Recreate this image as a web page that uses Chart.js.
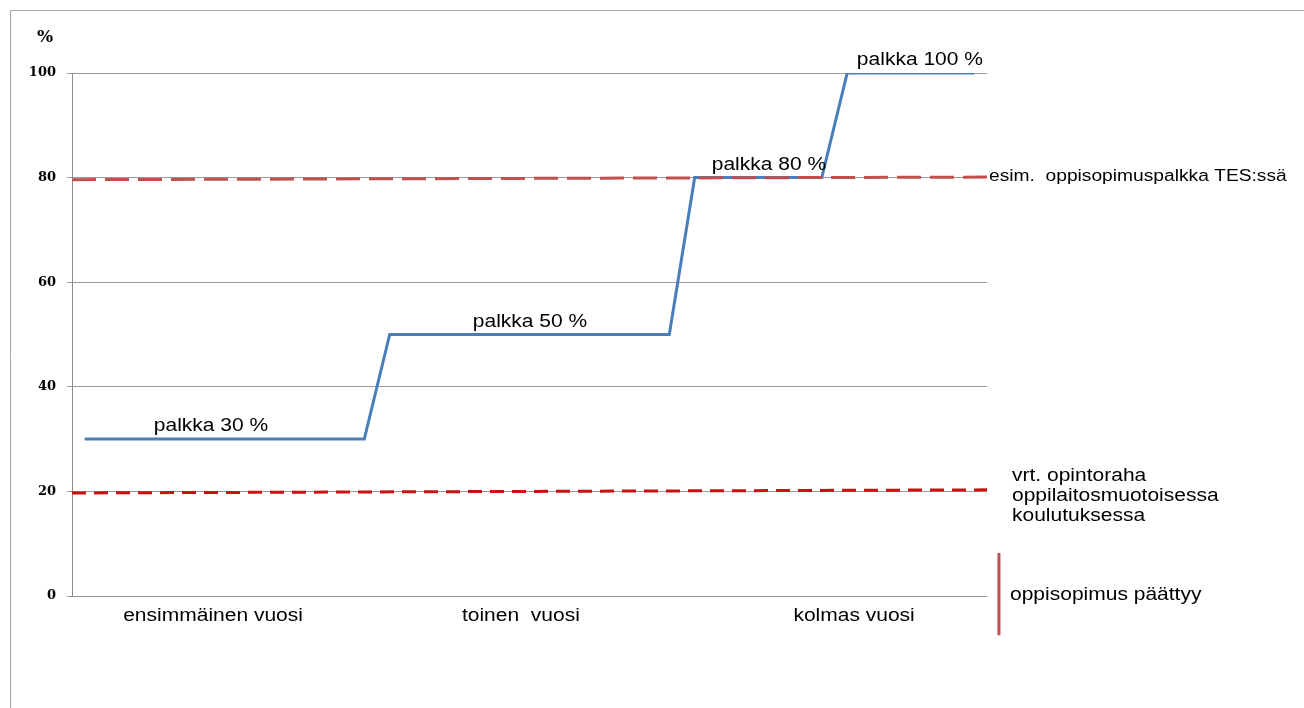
<!DOCTYPE html>
<html>
<head>
<meta charset="utf-8">
<script src="https://cdn.jsdelivr.net/npm/chart.js@4"></script>
<style>
  body { margin: 0; background: #fff; }
  canvas { display: block; }
</style>
</head>
<body>
<canvas id="palkka" width="1304" height="708"></canvas>
<script>
// aika kuukausina (0..36), palkka prosentteina
const palkkaKk = [0.5, 11.5, 12.5, 23.5, 24.5, 29.5, 30.5, 35.5];
const palkkaPros = [30, 30, 50, 50, 80, 80, 100, 100];

const tesKk = [0, 36];
const tesPros = [79.6, 80.1];

const opintorahaKk = [0, 36];
const opintorahaPros = [19.7, 20.3];

const paattyyKk = [36.47, 36.47];
const paattyyPros = [8.2, -7.5];

const vuodet = ['ensimmäinen vuosi', 'toinen  vuosi', 'kolmas vuosi'];
const vuosiKk = [5.55, 17.66, 30.77];

const palkkaTekstit = ['palkka 30 %', 'palkka 50 %', 'palkka 80 %', 'palkka 100 %'];
const palkkaTekstiKk = [5.47, 18.02, 27.42, 33.36];
const palkkaTekstiPros = [30, 50, 80, 100];

const yTicks = [0, 20, 40, 60, 80, 100];

function pisteet(xs, ys) {
  return xs.map((x, i) => ({ x: x, y: ys[i] }));
}

// teksti hieman leveämpänä, kuten alkuperäisessä kuvassa
function teksti(ctx, str, x, y, align, font) {
  ctx.save();
  ctx.translate(x, y);
  ctx.scale(1.2, 1);
  ctx.font = font;
  ctx.fillStyle = '#000';
  ctx.textAlign = align;
  ctx.textBaseline = 'middle';
  ctx.fillText(str, 0, 0);
  ctx.restore();
}

const tekstit = {
  id: 'tekstit',
  beforeDraw(chart) {
    const ctx = chart.ctx;
    ctx.save();
    ctx.strokeStyle = '#a6a6a6';
    ctx.lineWidth = 1;
    ctx.beginPath();
    ctx.moveTo(10.5, 708);
    ctx.lineTo(10.5, 10.5);
    ctx.lineTo(1304, 10.5);
    ctx.stroke();
    ctx.restore();
  },
  afterDraw(chart) {
    const ctx = chart.ctx;
    const xs = chart.scales.x;
    const ys = chart.scales.y;
    const f = '17.5px "Liberation Sans", Arial, sans-serif';

    ctx.save();
    ctx.font = 'bold 17px "DejaVu Serif", serif';
    ctx.fillStyle = '#000';
    ctx.textAlign = 'center';
    ctx.textBaseline = 'middle';
    ctx.fillText('%', 45, 38);
    ctx.restore();

    palkkaTekstit.forEach((t, i) => {
      teksti(ctx, t, xs.getPixelForValue(palkkaTekstiKk[i]), ys.getPixelForValue(palkkaTekstiPros[i]) - 12.5, 'center', f);
    });

    const pohja = ys.getPixelForValue(0);
    vuodet.forEach((v, i) => {
      teksti(ctx, v, xs.getPixelForValue(vuosiKk[i]), pohja + 20, 'center', f);
    });

    const oikea = xs.getPixelForValue(36);
    teksti(ctx, 'esim.  oppisopimuspalkka TES:ssä', oikea + 2, ys.getPixelForValue(80) - 1, 'left', '16px "Liberation Sans", Arial, sans-serif');
    teksti(ctx, 'vrt. opintoraha', oikea + 25, 476, 'left', f);
    teksti(ctx, 'oppilaitosmuotoisessa', oikea + 25, 496, 'left', f);
    teksti(ctx, 'koulutuksessa', oikea + 25, 516, 'left', f);
    teksti(ctx, 'oppisopimus päättyy', oikea + 23, pohja - 1, 'left', f);
  }
};

new Chart(document.getElementById('palkka').getContext('2d'), {
  type: 'line',
  data: {
    datasets: [
      {
        label: 'oppisopimuspalkka',
        data: pisteet(palkkaKk, palkkaPros),
        borderColor: '#4a7ebb',
        borderWidth: 3,
        pointRadius: 0,
        fill: false,
        order: 2
      },
      {
        label: 'TES',
        data: pisteet(tesKk, tesPros),
        borderColor: '#c0504d',
        borderWidth: 3,
        borderDash: [24, 9],
        pointRadius: 0,
        fill: false,
        order: 1
      },
      {
        label: 'opintoraha',
        data: pisteet(opintorahaKk, opintorahaPros),
        borderColor: '#cc1010',
        borderWidth: 3,
        borderDash: [14, 8],
        pointRadius: 0,
        fill: false,
        order: 1
      },
      {
        label: 'päättyy',
        data: pisteet(paattyyKk, paattyyPros),
        borderColor: '#c0504d',
        borderWidth: 3,
        pointRadius: 0,
        fill: false,
        clip: false,
        order: 1
      }
    ]
  },
  options: {
    responsive: false,
    animation: false,
    layout: {
      padding: { left: 0, top: 73, right: 317, bottom: 112 }
    },
    plugins: {
      legend: { display: false },
      tooltip: { enabled: false }
    },
    scales: {
      x: {
        type: 'linear',
        min: 0,
        max: 36,
        display: false
      },
      y: {
        min: 0,
        max: 100,
        afterFit(scale) { scale.width = 72; },
        afterBuildTicks(scale) { scale.ticks = yTicks.map(v => ({ value: v })); },
        border: { color: '#8c8c8c', width: 1 },
        grid: { color: '#9a9a9a', lineWidth: 1, tickLength: 5 },
        ticks: {
          padding: 11,
          color: '#000',
          font: { family: '"DejaVu Serif", serif', size: 13, weight: 'bold' }
        }
      }
    }
  },
  plugins: [tekstit]
});
</script>
</body>
</html>
